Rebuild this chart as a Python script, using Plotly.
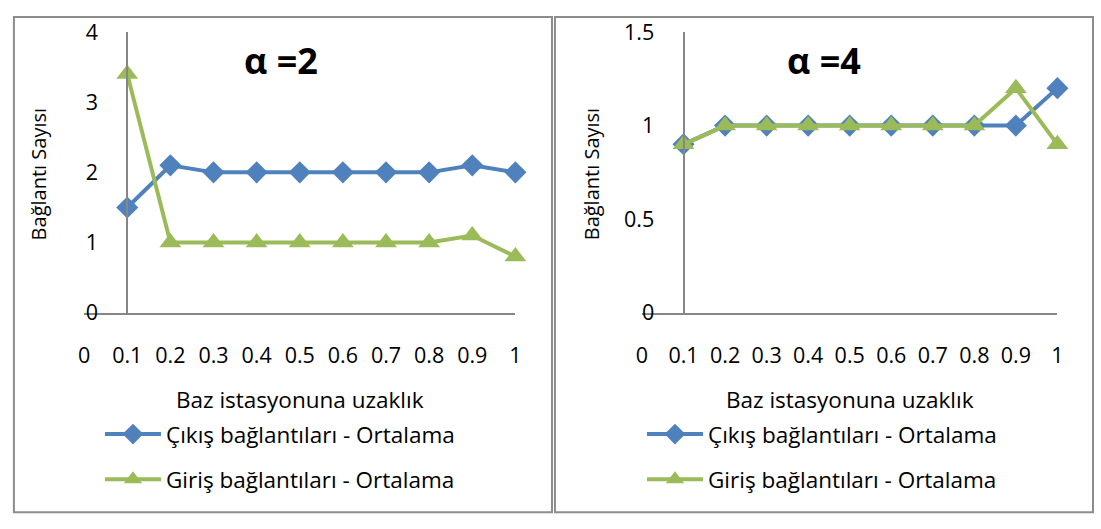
"""Two-panel line chart: connection counts vs. distance to base station."""

import plotly.graph_objects as go

W, H = 1101, 529

# Data
distance = [0.1, 0.2, 0.3, 0.4, 0.5, 0.6, 0.7, 0.8, 0.9, 1.0]
out_alpha2 = [1.5, 2.1, 2.0, 2.0, 2.0, 2.0, 2.0, 2.0, 2.1, 2.0]
in_alpha2 = [3.4, 1.0, 1.0, 1.0, 1.0, 1.0, 1.0, 1.0, 1.1, 0.8]
out_alpha4 = [0.9, 1.0, 1.0, 1.0, 1.0, 1.0, 1.0, 1.0, 1.0, 1.2]
in_alpha4 = [0.9, 1.0, 1.0, 1.0, 1.0, 1.0, 1.0, 1.0, 1.2, 0.9]

x_tickvals = [0, 0.1, 0.2, 0.3, 0.4, 0.5, 0.6, 0.7, 0.8, 0.9, 1.0]
x_ticktext = ["0", "0.1", "0.2", "0.3", "0.4", "0.5", "0.6", "0.7", "0.8", "0.9", "1"]
y_ticks_alpha2 = [0, 1, 2, 3, 4]
y_ticks_alpha4 = [0, 0.5, 1, 1.5]

panel_titles = ["α =2", "α =4"]
x_title = "Baz istasyonuna uzaklık"
y_title = "Bağlantı Sayısı"
out_name = "Çıkış bağlantıları - Ortalama"
in_name = "Giriş bağlantıları - Ortalama"

BLUE = "#4F81BD"
GREEN = "#9BBB59"
AXIS = "#868686"
FONT = "Open Sans"
FSIZE = 22.5


def px_x(p):
    return p / W


def px_y(p):
    return 1 - p / H


# plot areas in pixels (left, right, top, bottom)
panels = [(79, 515, 18, 315), (643, 1063, 18, 315)]

fig = go.Figure()

series = [(out_alpha2, in_alpha2, y_ticks_alpha2), (out_alpha4, in_alpha4, y_ticks_alpha4)]
for i, (out_vals, in_vals, yticks) in enumerate(series):
    sfx = "" if i == 0 else str(i + 1)
    leg = "legend" if i == 0 else "legend2"
    fig.add_trace(
        go.Scatter(
            x=distance,
            y=out_vals,
            mode="lines+markers",
            name=out_name,
            line={"color": BLUE, "width": 4},
            marker={"symbol": "diamond", "size": 17, "color": BLUE},
            xaxis="x" + sfx,
            yaxis="y" + sfx,
            legend=leg,
            legendgroup="out" + sfx,
            cliponaxis=False,
        )
    )
    fig.add_trace(
        go.Scatter(
            x=distance,
            y=in_vals,
            mode="lines+markers",
            name=in_name,
            line={"color": GREEN, "width": 4},
            marker={"symbol": "triangle-up", "size": 19, "color": GREEN},
            xaxis="x" + sfx,
            yaxis="y" + sfx,
            legend=leg,
            legendgroup="in" + sfx,
            cliponaxis=False,
        )
    )

    left, right, top, bottom = panels[i]
    x_dom = [px_x(left), px_x(right)]
    y_dom = [px_y(bottom), px_y(top)]
    # y axis crosses the x axis at 0.1, as in the original spreadsheet chart
    y_pos = x_dom[0] + 0.1 * (x_dom[1] - x_dom[0])

    fig.update_layout(
        **{
            "xaxis" + sfx: {
                "domain": x_dom,
                "range": [0, 1],
                "anchor": "y" + sfx,
                "tickvals": x_tickvals,
                "ticktext": x_ticktext,
                "showgrid": False,
                "zeroline": False,
                "showline": True,
                "linecolor": AXIS,
                "linewidth": 2,
                "ticks": "",
                "ticklabelstandoff": 22,
                "tickfont": {"size": 21.5, "family": FONT, "color": "black"},
            },
            "yaxis" + sfx: {
                "domain": y_dom,
                "range": [0, yticks[-1]],
                "anchor": "free",
                "position": y_pos,
                "tickvals": yticks,
                "showgrid": False,
                "zeroline": False,
                "showline": True,
                "linecolor": AXIS,
                "linewidth": 2,
                "ticks": "",
                "ticklabelstandoff": 24,
                "tickfont": {"size": 21.5, "family": FONT, "color": "black"},
            },
            leg: {
                "x": px_x(left + 16 if i == 0 else left),
                "y": px_y(421),
                "xanchor": "left",
                "yanchor": "top",
                "bgcolor": "rgba(0,0,0,0)",
                "font": {"size": FSIZE, "family": FONT, "color": "black"},
                "itemwidth": 56,
                "tracegroupgap": 13,
            },
        }
    )

# panel titles and axis titles
title_x = [278, 827]
ytitle_x = [33, 592]
xtitle_x = [297, 853]
for i in range(2):
    fig.add_annotation(
        text=panel_titles[i], xref="paper", yref="paper",
        x=px_x(title_x[i]), y=px_y(48), xanchor="center", yanchor="middle",
        showarrow=False, font={"size": 36, "family": FONT, "color": "black", "weight": "bold"},
    )
    fig.add_annotation(
        text=y_title, xref="paper", yref="paper", textangle=-90,
        x=px_x(ytitle_x[i]), y=px_y(169), xanchor="center", yanchor="middle",
        showarrow=False, font={"size": 20, "family": FONT, "color": "black"},
    )
    fig.add_annotation(
        text=x_title, xref="paper", yref="paper",
        x=px_x(xtitle_x[i]), y=px_y(407), xanchor="center", yanchor="middle",
        showarrow=False, font={"size": FSIZE, "family": FONT, "color": "black"},
    )

# chart borders
for x0, x1 in [(8, 552), (555, 1099)]:
    fig.add_shape(
        type="rect", xref="paper", yref="paper",
        x0=px_x(x0), x1=px_x(x1), y0=px_y(526), y1=px_y(2),
        line={"color": "#8c8c8c", "width": 2},
    )

fig.update_layout(
    width=W,
    height=H,
    margin={"l": 0, "r": 0, "t": 0, "b": 0},
    plot_bgcolor="white",
    paper_bgcolor="white",
    showlegend=True,
)

# drop the default page margin so the figure sits at the window origin
fig.write_html(
    "out.html",
    config={"displayModeBar": False},
    post_script="document.body.style.margin='0';document.body.style.overflow='hidden';",
)
